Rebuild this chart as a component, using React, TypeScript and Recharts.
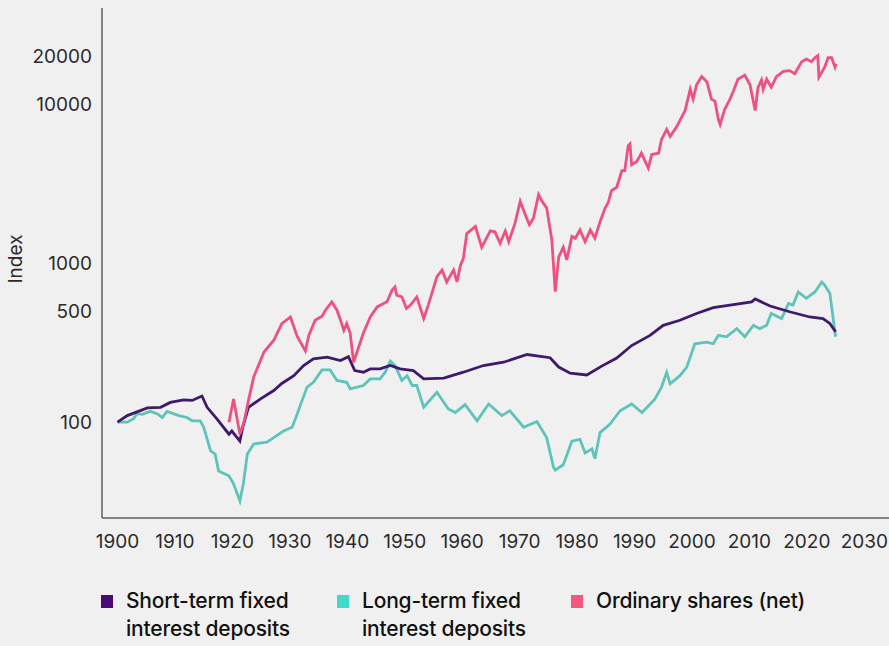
import { LineChart, Line, XAxis, YAxis } from "recharts";

const yearTicks = [1900, 1910, 1920, 1930, 1940, 1950, 1960, 1970, 1980, 1990, 2000, 2010, 2020, 2030];
const indexTicks = [100, 500, 1000, 10000, 20000];

const shortYears = [
  1900, 1901.7, 1905.2, 1907.5, 1909.2, 1911.5, 1913, 1914.7, 1915.6, 1917.3, 1919.4, 1919.9,
  1921.3, 1921.8, 1922.8, 1924.9, 1927.2, 1928.6, 1930.7, 1932.4, 1934.1, 1936.5, 1938.8, 1940.2,
  1941.3, 1942.8, 1944, 1945.7, 1947.5, 1949.2, 1951.5, 1953.3, 1956.8, 1960.2, 1963.7, 1967.2,
  1971.3, 1975.3, 1976.8, 1978.8, 1981.7, 1984.3, 1986.9, 1989.5, 1992.7, 1995, 1997.9, 2000.8,
  2003.7, 2007.2, 2010.4, 2011, 2013.6, 2017, 2020.5, 2022.8, 2024, 2025,
];
const shortValues = [
  100, 110, 123, 124, 133, 138, 137, 146, 124, 105, 84, 88,
  76, 93, 124, 140, 158, 175, 196, 227, 250, 256, 244, 258,
  211, 206, 216, 216, 227, 216, 211, 187, 189, 206, 227, 238,
  266, 254, 222, 203, 198, 225, 253, 303, 351, 406, 437, 482,
  524, 548, 570, 594, 537, 494, 458, 448, 417, 370,
];

const longYears = [
  1900, 1901.7, 1902.8, 1903.4, 1904.3, 1905.7, 1906.9, 1907.8, 1908.6, 1910.7, 1912.1, 1913,
  1914.4, 1915, 1916.2, 1917, 1917.6, 1919.4, 1920.2, 1921.3, 1921.9, 1922.6, 1923.7, 1926,
  1927.2, 1928.9, 1930.4, 1931.3, 1931.8, 1933, 1934.1, 1935.6, 1937, 1938.2, 1939.9, 1940.5,
  1942.8, 1944, 1945.7, 1946.6, 1947.5, 1948.3, 1949.5, 1950.4, 1951.3, 1952.1, 1953.3, 1955.6,
  1957.6, 1958.8, 1960.5, 1962.6, 1964.6, 1966.9, 1968.3, 1970.7, 1973, 1974.7, 1975.9, 1976.2,
  1977.6, 1979.1, 1980.5, 1981.4, 1982.6, 1983.1, 1984, 1985.7, 1987.5, 1989.5, 1991.3, 1993.5,
  1994.7, 1995.6, 1996.2, 1997.9, 1999.1, 2000.5, 2002.6, 2003.7, 2004.6, 2006, 2007.8, 2009.2,
  2010.7, 2011.8, 2013, 2013.8, 2015.6, 2016.8, 2017.6, 2018.5, 2019.9, 2021.4, 2022.6, 2023.1,
  2024, 2025,
];
const longValues = [
  100, 100, 105, 113, 112, 117, 113, 107, 117, 110, 107, 102,
  102, 93, 66, 63, 49.4, 46, 41, 32, 41, 63, 73, 75,
  80, 88, 93, 113, 127, 166, 178, 213, 213, 183, 178, 162,
  170, 187, 187, 206, 242, 227, 183, 196, 170, 170, 124, 154,
  121, 115, 129, 102, 130, 110, 118, 93, 101, 80, 52, 50,
  54, 76, 78, 64, 68, 59, 86, 97, 118, 130, 115, 139,
  166, 206, 174, 196, 222, 311, 318, 311, 351, 344, 387, 344,
  406, 387, 406, 482, 448, 556, 544, 658, 600, 658, 760, 726,
  645, 344,
];

const sharesYears = [
  1919.4, 1920.2, 1921.3, 1922, 1922.8, 1923.7, 1925.5, 1927.2, 1928.6, 1930.1, 1931.3, 1932.7,
  1933.3, 1934.4, 1935.6, 1936.2, 1937.3, 1938.2, 1938.8, 1939.4, 1939.9, 1940.5, 1941.1, 1941.9,
  1942.8, 1944, 1945.2, 1946.9, 1947.8, 1948.3, 1948.6, 1949.5, 1950.3, 1951, 1952.1, 1953.3,
  1954.1, 1955.6, 1956.5, 1957.3, 1958.5, 1959.1, 1959.7, 1960.2, 1960.8, 1962.3, 1963.4, 1964.9,
  1965.7, 1966.6, 1967.5, 1968.1, 1969.2, 1970.1, 1971, 1971.7, 1972.4, 1973.3, 1973.9, 1974.7,
  1975.6, 1976.2, 1976.8, 1977.6, 1978.2, 1979.1, 1979.7, 1980.5, 1981.4, 1982.3, 1983.1, 1984,
  1984.9, 1985.4, 1986, 1986.9, 1987.8, 1988.3, 1988.9, 1989.2, 1989.5, 1990.4, 1991.2, 1992.4,
  1993, 1994.2, 1994.7, 1995.6, 1996.2, 1997.3, 1998.8, 1999.7, 2000.2, 2000.8, 2001.7, 2002.6,
  2003.4, 2004, 2004.6, 2004.9, 2005.7, 2006.6, 2007.2, 2008, 2009.2, 2010.1, 2011, 2011.5,
  2012.1, 2012.4, 2013, 2013.8, 2014.7, 2015.9, 2017, 2017.9, 2019.1, 2019.9, 2020.8, 2021.4,
  2021.9, 2022.1, 2023.1, 2023.7, 2024.3, 2024.9, 2025.1,
];
const sharesValues = [
  100, 140, 84, 100, 137, 192, 276, 327, 416, 458, 344, 280,
  351, 437, 463, 505, 570, 505, 440, 378, 416, 363, 238, 290,
  363, 458, 530, 570, 676, 707, 627, 612, 518, 544, 612, 448,
  544, 820, 903, 760, 903, 760, 968, 1066, 1531, 1700, 1255, 1590,
  1570, 1330, 1590, 1360, 1780, 2440, 2000, 1740, 1910, 2690, 2440, 2220,
  1400, 660, 1090, 1255, 1045, 1470, 1430, 1615, 1360, 1615, 1430, 1815,
  2220, 2390, 2850, 2990, 3800, 3800, 5460, 5600, 4140, 4340, 4900, 3950,
  4800, 4900, 5970, 6900, 6230, 7140, 9070, 12340, 10700, 13160, 14840, 13720,
  10670, 10400, 7980, 7420, 9230, 10670, 12000, 14270, 15140, 13160, 9070, 12700,
  14100, 12340, 14270, 12700, 14840, 16000, 16160, 15460, 18400, 19100, 18400, 19500,
  20100, 14700, 17000, 19500, 19500, 17000, 17900,
];

const toRows = (years: number[], values: number[]) =>
  years.map((year, i) => ({ year, value: values[i] }));

const shortRows = toRows(shortYears, shortValues);
const longRows = toRows(longYears, longValues);
const sharesRows = toRows(sharesYears, sharesValues);

const FONT = "Inter, 'Noto Sans', sans-serif";
const tickStyle = { fill: "#2b2b2b", fontSize: 19, fontFamily: FONT };

const legendItems = [
  { color: "#4a0b78", lines: ["Short-term fixed", "interest deposits"], left: 101 },
  { color: "#3ddbc8", lines: ["Long-term fixed", "interest deposits"], left: 337 },
  { color: "#f7567f", lines: ["Ordinary shares (net)"], left: 571 },
];

function IndexLabel() {
  return (
    <text x={15} y={259} transform="rotate(-90 15 259)" textAnchor="middle" dominantBaseline="central"
      fill="#2b2b2b" fontSize={19} fontFamily={FONT}>
      Index
    </text>
  );
}

export default function App() {
  return (
    <div style={{ position: "absolute", left: 0, top: 0, width: 889, height: 646, background: "#f0f0f0", fontFamily: FONT }}>
      <LineChart width={889} height={560} margin={{ top: 8, right: 0, bottom: 0, left: 0 }}>
        <XAxis dataKey="year" type="number" domain={[1897.3, 2034.3]} ticks={yearTicks} allowDataOverflow
          tickLine={false} tickMargin={11} height={42} stroke="#1a1a1a" tick={tickStyle} />
        <YAxis type="number" scale="log" domain={[25, 40000]} ticks={indexTicks} allowDataOverflow
          tickLine={false} tickMargin={4} width={102} stroke="#1a1a1a" tick={tickStyle} label={<IndexLabel />} />
        <Line data={longRows} dataKey="value" type="linear" stroke="#5ec3b9" strokeWidth={2.8} dot={false} activeDot={false} isAnimationActive={false} />
        <Line data={shortRows} dataKey="value" type="linear" stroke="#3e1a6c" strokeWidth={2.8} dot={false} activeDot={false} isAnimationActive={false} />
        <Line data={sharesRows} dataKey="value" type="linear" stroke="#ee5180" strokeWidth={2.8} dot={false} activeDot={false} isAnimationActive={false} />
      </LineChart>
      {legendItems.map((item) => (
        <div key={item.left} style={{ position: "absolute", left: item.left, top: 587, display: "flex", alignItems: "flex-start" }}>
          <div style={{ width: 12, height: 13, background: item.color, marginTop: 8, marginRight: 13 }} />
          <div style={{ fontSize: 21, fontWeight: 500, lineHeight: "28px", color: "#111", letterSpacing: -0.2 }}>
            {item.lines.map((l) => (
              <div key={l}>{l}</div>
            ))}
          </div>
        </div>
      ))}
    </div>
  );
}
